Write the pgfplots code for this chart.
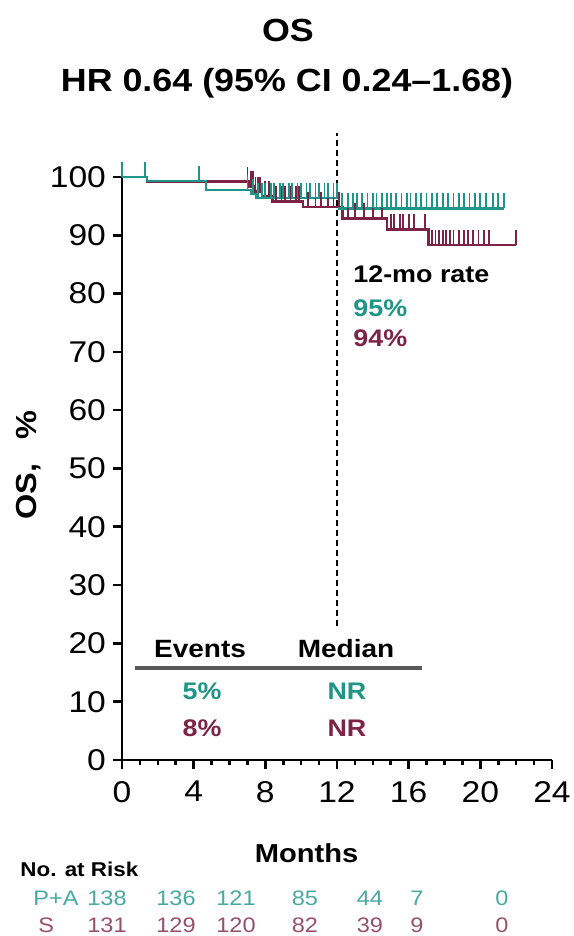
\documentclass[border=0pt]{standalone}
\usepackage{fontspec}
\setmainfont{Liberation Sans}[FakeStretch=1.12]
\usepackage{pgfplots}
\pgfplotsset{compat=1.18}
\definecolor{cteal}{RGB}{30,150,135}
\definecolor{cmar}{RGB}{125,35,70}
\definecolor{ctealL}{RGB}{70,170,160}
\definecolor{cmarL}{RGB}{150,80,105}
\pgfdeclareplotmark{cens}{\pgfpathmoveto{\pgfqpoint{0pt}{0pt}}\pgfpathlineto{\pgfqpoint{0pt}{7.5pt}}\pgfusepathqstroke}
\newcommand{\fs}[1]{\fontsize{#1}{#1}\selectfont}
\begin{document}
\begin{tikzpicture}
\path[use as bounding box] (-61pt,-88pt) rectangle (225.5pt,380pt);
\begin{axis}[at={(0,0)}, anchor=south west, scale only axis,
  width=215pt, height=291.5pt,
  xmin=0, xmax=24, ymin=0, ymax=100,
  axis x line=bottom, axis y line=left,
  axis line style={-, line width=1.3pt},
  xtick={0,4,...,24}, minor x tick num=3,
  ytick={0,10,...,100},
  tick align=outside,
  major tick length=4.5pt, minor tick length=2.5pt,
  every tick/.style={black, line width=1.3pt},
  ticklabel style={font=\fs{15}},
  xticklabel style={yshift=-2.5pt},
  /pgf/number format/assume math mode=true,
  clip=false]
\addplot[black, line width=1pt, dash pattern=on 3pt off 2pt] coordinates {(12,23) (12,107.5)};
% S (maroon)
\addplot[const plot, cmar, line width=1.2pt] coordinates {
(0,100) (1.4,99.2) (7.1,98.4) (7.4,97.5) (7.8,96.7) (8.4,95.8) (10.1,94.9) (12.3,92.9) (14.8,91.0) (17.1,88.3) (22.0,88.3)};
\addplot[only marks, mark=cens, cmar, mark options={line width=0.9pt, solid}] coordinates {
(7.0,99.2) (7.2,98.4) (7.3,98.4) (7.45,97.5) (7.6,97.5) (7.7,97.5) (8.0,96.7) (8.2,96.7)
(8.6,95.8) (8.9,95.8) (9.1,95.8) (9.4,95.8) (9.7,95.8) (9.9,95.8)
(10.4,94.9) (10.8,94.9) (11.1,94.9) (11.5,94.9) (11.8,94.9) (12.1,94.9)
(12.6,92.9) (13.0,92.9) (13.5,92.9) (14.0,92.9) (14.5,92.9)
(15.0,91.0) (15.2,91.0) (15.5,91.0) (15.7,91.0) (16.0,91.0) (16.3,91.0) (16.9,91.0)
(17.3,88.3) (17.5,88.3) (17.7,88.3) (17.9,88.3) (18.1,88.3) (18.3,88.3) (18.5,88.3) (18.8,88.3)
(19.1,88.3) (19.3,88.3) (19.6,88.3) (19.9,88.3) (20.2,88.3) (20.5,88.3) (22.0,88.3)};
% P+A (teal)
\addplot[const plot, cteal, line width=1.2pt] coordinates {
(0,100) (1.4,99.3) (4.7,97.8) (7.2,97.1) (7.5,96.4) (12.1,94.6) (21.3,94.6)};
\addplot[only marks, mark=cens, cteal, mark options={line width=0.9pt, solid}] coordinates {
(0,100) (1.3,100) (4.3,99.3)
(7.0,97.8) (7.3,97.1) (7.6,96.4) (7.8,96.4) (8.0,96.4) (8.3,96.4) (8.5,96.4) (8.8,96.4) (9.0,96.4)
(9.3,96.4) (9.5,96.4) (9.8,96.4) (10.0,96.4) (10.3,96.4) (10.5,96.4) (10.8,96.4) (11.0,96.4)
(11.3,96.4) (11.5,96.4) (11.8,96.4) (12.0,96.4)
(12.3,94.6) (12.6,94.6) (12.9,94.6) (13.1,94.6) (13.4,94.6) (13.7,94.6) (14.0,94.6) (14.2,94.6)
(14.5,94.6) (14.8,94.6) (15.0,94.6) (15.3,94.6) (15.6,94.6) (15.9,94.6) (16.1,94.6) (16.4,94.6)
(16.7,94.6) (17.0,94.6) (17.3,94.6) (17.6,94.6) (17.9,94.6) (18.2,94.6) (18.5,94.6) (18.8,94.6)
(19.1,94.6) (19.4,94.6) (19.7,94.6) (20.0,94.6) (20.3,94.6) (20.7,94.6) (21.0,94.6) (21.3,94.6)};
\end{axis}
\begin{scope}[every node/.style={inner sep=0pt}, x=1pt, y=1pt]
\node[anchor=base, font=\bfseries\fs{16}] at (83,359) {OS};
\node[anchor=base, font=\bfseries\fs{16}] at (82.5,334) {HR 0.64 (95\% CI 0.24--1.68)};
\node[anchor=base west, font=\bfseries\fs{12}] at (115.5,238.5) {12-mo rate};
\node[anchor=base west, font=\bfseries\fs{12}, text=cteal] at (115.5,221.5) {95\%};
\node[anchor=base west, font=\bfseries\fs{12}, text=cmar] at (115.5,206.5) {94\%};
\node[anchor=base, font=\bfseries\fs{12.5}] at (39,51) {Events};
\node[anchor=base, font=\bfseries\fs{12.5}] at (112,51) {Median};
\draw[line width=2pt, black!65] (6.5,46) -- (150,46);
\node[anchor=base, font=\bfseries\fs{12}, text=cteal] at (40,30) {5\%};
\node[anchor=base, font=\bfseries\fs{12}, text=cteal] at (112.5,30) {NR};
\node[anchor=base, font=\bfseries\fs{12}, text=cmar] at (40,11.5) {8\%};
\node[anchor=base, font=\bfseries\fs{12}, text=cmar] at (112.5,11.5) {NR};
\node[anchor=base, font=\bfseries\fs{13}] at (92.3,-51.5) {Months};
\node[anchor=base, rotate=90, font=\bfseries\fs{14.5}] at (-42.5,147.5) {OS,\hspace{12pt}\%};
\node[anchor=base west, font=\bfseries\fs{10}] at (-51,-58.5) {No. at Risk};
\node[anchor=base west, font=\fs{10.5}, text=ctealL] at (-44.5,-72.5) {P+A};
\node[anchor=base west, font=\fs{10.5}, text=cmarL] at (-42,-86) {S};
\foreach \xx/\vv in {-7.5/138, 27/136, 57/121, 91.5/85, 124/44, 147.5/7, 190/0}
  \node[anchor=base, font=\fs{10.5}, text=ctealL] at (\xx,-72.5) {\vv};
\foreach \xx/\vv in {-7.5/131, 27/129, 57/120, 91.5/82, 124/39, 147.5/9, 190/0}
  \node[anchor=base, font=\fs{10.5}, text=cmarL] at (\xx,-86) {\vv};
\end{scope}
\end{tikzpicture}
\end{document}
